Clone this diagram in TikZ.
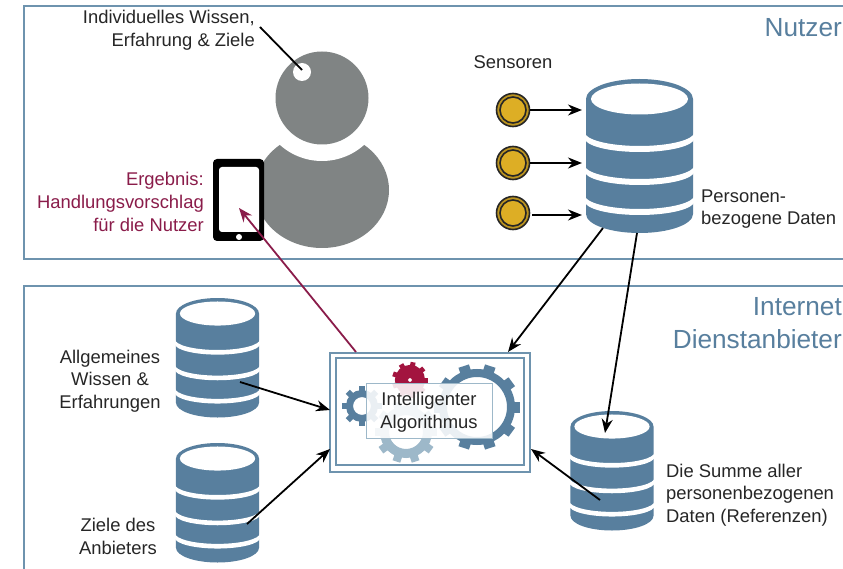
\documentclass[tikz,border=0pt]{standalone}
\usepackage{fontspec}
\setmainfont{Liberation Sans}
\usetikzlibrary{arrows.meta}
\definecolor{datenblau}{HTML}{587F9E}
\definecolor{hellblau}{HTML}{9DB8C9}
\definecolor{rahmenblau}{HTML}{6E93AE}
\definecolor{purpur}{HTML}{8A1C4A}
\definecolor{zahnrot}{HTML}{A3143F}
\definecolor{personengrau}{HTML}{808484}
\definecolor{sensorgold}{HTML}{DDAE25}
\tikzset{
  txt/.style={font=\fontsize{18.4}{22.7}\selectfont,inner sep=0pt,align=center,text=black!85},
  titel/.style={font=\fontsize{26.2}{33}\selectfont,inner sep=0pt,align=right,text=datenblau,anchor=east},
  pfeil/.style={-{Stealth[length=14pt,width=11pt]},line width=1.8pt,black},
  sensor/.style={circle,draw=black!85,line width=1.6pt,fill=sensorgold!85!black,minimum size=33pt,inner sep=0pt,
    path picture={\draw[black!85,fill=sensorgold,line width=1.6pt] (path picture bounding box.center) circle (13pt);}},
  datenbank/.pic={
    \fill[datenblau] (-53.5,-20) arc[start angle=180,end angle=0,x radius=53.5,y radius=20]
      -- (53.5,-135) arc[start angle=0,end angle=-180,x radius=53.5,y radius=19] -- cycle;
    \fill[white] (0,-20) ellipse[x radius=48.5,y radius=15.5];
    \foreach \y in {-53,-86,-116}
      \fill[white] (-55,\y) arc[start angle=180,end angle=360,x radius=55,y radius=14]
        -- (55,\y-6) arc[start angle=360,end angle=180,x radius=55,y radius=14] -- cycle;
  }
}
% Mitte, Farbe, Ringradius, Ringbreite, Zahl der Zaehne, Zahnbreite, Zahnspitze
\newcommand{\zahnrad}[7]{
  \draw[#2,line width=#4pt] (#1) circle (#3);
  \foreach \i in {1,...,#5}
    \draw[#2,line width=#6pt] (#1) ++(\i*360/#5:#3) -- ++(\i*360/#5:#7-#3);
}
\begin{document}
\begin{tikzpicture}[x=1pt,y=1pt]
\useasboundingbox (0,0) rectangle (843,-569);
\fill[white] (0,0) rectangle (843,-569);

% Felder
\draw[rahmenblau,line width=1.6pt] (843,-6) -- (24,-6) -- (24,-259) -- (843,-259);
\draw[rahmenblau,line width=1.6pt] (843,-286) -- (24,-286) -- (24,-569);
\node[titel] (nutzer) at (842,-28) {Nutzer};
\node[titel] (dienst) at (842,-323) {Internet\\Dienstanbieter};

% Person
\fill[personengrau] (322,-190) ellipse[x radius=67,y radius=58];
\fill[white] (322,-98) circle (63);
\fill[personengrau] (322,-98) circle (46.5);
\fill[white] (302,-72) circle (9);
\coordinate (kopf) at (302,-70);
\node[txt,align=right,anchor=east] (wissen) at (255,-30) {Individuelles Wissen,\\Erfahrung \& Ziele};
\coordinate (wissenende) at (260,-27);
\draw[black,line width=1.8pt] (wissenende) -- (kopf);

% Tablet
\fill[black,rounded corners=4] (213,-159) rectangle (264,-241);
\fill[white,rounded corners=3] (219,-167) rectangle (259,-232);
\fill[white] (239,-237) circle (3);
\coordinate (tablet) at (239,-208);
\node[txt,text=purpur,align=right,anchor=east] (ergebnis) at (204,-202)
  {Ergebnis:\\Handlungsvorschlag\\für die Nutzer};

% Sensoren und Datenbanken
\node[txt] (sensoren) at (513,-62) {Sensoren};
\node[sensor] (s1) at (513,-110) {};
\node[sensor] (s2) at (513,-163) {};
\node[sensor] (s3) at (513,-213) {};
\pic at (639.5,-79) {datenbank};
\pic[scale=.776] at (217.5,-298) {datenbank};
\pic[scale=.776] at (217.5,-443) {datenbank};
\pic[scale=.776] at (612,-411) {datenbank};
\coordinate (e1) at (582,-110);
\coordinate (e2) at (582,-163);
\coordinate (e3) at (582,-215);
\draw[pfeil] (s1) -- (e1);
\draw[pfeil] (s2) -- (e2);
\draw[pfeil] (s3 -| 532,0) ++(0,-2) -- (e3);
\node[txt,align=left,anchor=west] (personen) at (701,-209) {Personen-\\bezogene Daten};
\node[txt] (allgemein) at (110,-381) {Allgemeines\\Wissen \&\\Erfahrungen};
\node[txt] (ziele) at (118,-536.5) {Ziele des\\Anbieters};
\node[txt,align=left,anchor=west] (summe) at (666,-495)
  {Die Summe aller\\personenbezogenen\\Daten (Referenzen)};

% Algorithmus
\node[draw=rahmenblau,line width=1.8pt,minimum width=200pt,minimum height=119pt,inner sep=0pt] (aussen) at (430,-412.5) {};
\node[draw=rahmenblau,line width=1.8pt,minimum width=188pt,minimum height=107pt,inner sep=0pt] (innen) at (430,-411.5) {};
\coordinate (zl) at (362,-406);
\coordinate (zr) at (410,-380);
\coordinate (zg) at (477,-407);
\coordinate (zh) at (406,-432);
\zahnrad{zl}{datenblau}{12.5}{7}{8}{6}{20}
\zahnrad{zr}{zahnrot}{8.5}{13}{9}{5}{18}
\zahnrad{zg}{datenblau}{34}{8}{10}{11}{43}
\zahnrad{zh}{hellblau}{21.5}{9}{10}{8}{31}
\node[draw=hellblau,line width=.8pt,fill=white,fill opacity=.88,
  minimum width=126pt,minimum height=55pt] (algo) at (429,-410.5) {};
\node[txt] (algotext) at (429,-412.5) {Intelligenter\\Algorithmus};

% Verbindungen
\coordinate (a1) at (356,-352);
\draw[-{Stealth[length=14pt,width=11pt]},line width=1.8pt,purpur] (a1) -- (tablet);
\coordinate (p1) at (603,-228);
\coordinate (p2) at (508,-352);
\draw[pfeil] (p1) -- (p2);
\coordinate (q1) at (637,-233);
\coordinate (q2) at (605,-433);
\draw[pfeil] (q1) -- (q2);
\coordinate (w1) at (240,-382);
\coordinate (w2) at (330,-410);
\draw[pfeil] (w1) -- (w2);
\coordinate (z1) at (247,-524);
\coordinate (z2) at (330,-449);
\draw[pfeil] (z1) -- (z2);
\coordinate (r1) at (600,-500);
\coordinate (r2) at (531,-449);
\draw[pfeil] (r1) -- (r2);
\end{tikzpicture}
\end{document}
